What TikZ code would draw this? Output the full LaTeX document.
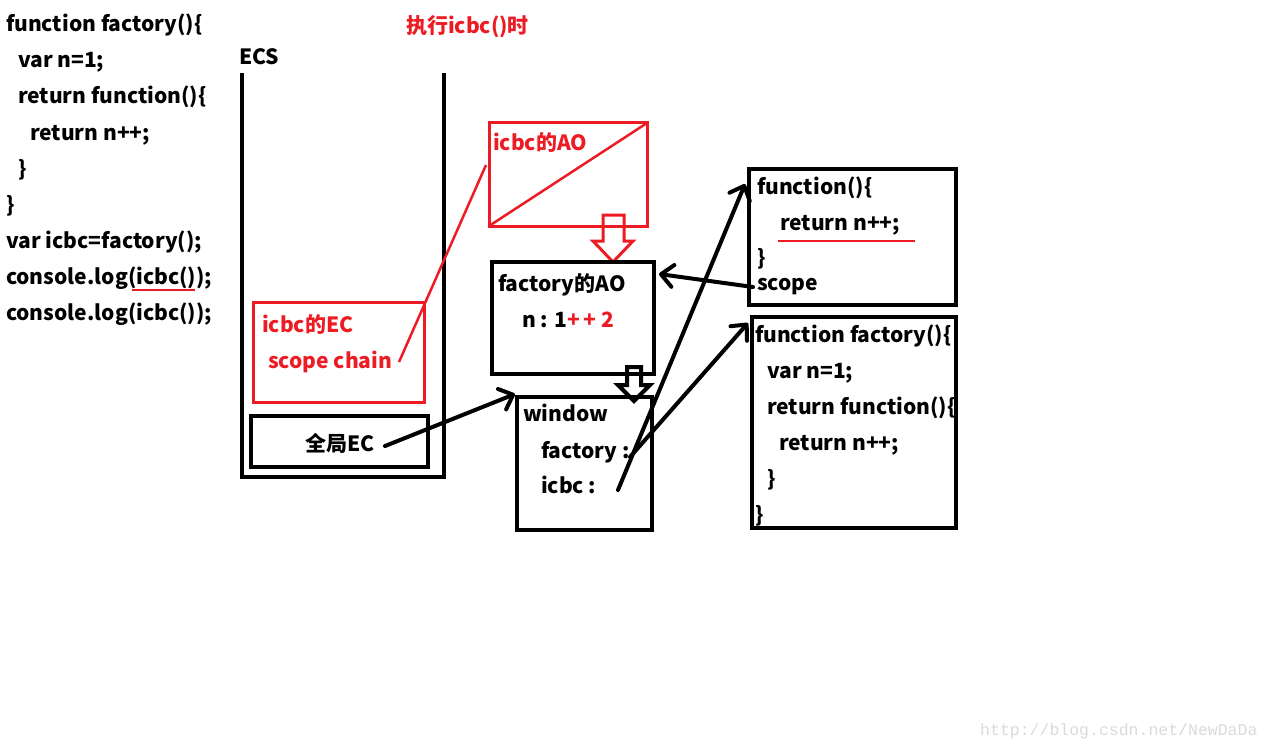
\documentclass[tikz,border=0pt]{standalone}
\usepackage{fontspec}
\newfontfamily\cjk{Noto Sans CJK SC}
\newfontfamily\wmfont{Liberation Mono}
\usetikzlibrary{arrows.meta}
\definecolor{pred}{HTML}{ED1C24}
\definecolor{wm}{HTML}{DADADA}
\tikzset{
  txt/.style={font=\cjk\bfseries\fontsize{21}{24}\selectfont, anchor=base west, inner sep=0pt, outer sep=0pt},
  rtxt/.style={txt, text=pred},
  bbox/.style={draw=black, line width=4.5pt, anchor=north west, inner sep=0pt, outer sep=0pt},
  rbox/.style={draw=pred, line width=3pt, anchor=north west, inner sep=0pt, outer sep=0pt},
  blk/.style={line width=4pt, line cap=round, line join=round, -{Straight Barb[length=12pt,width=22pt,line cap=round,line join=round]}},
  redline/.style={draw=pred, line width=2.5pt},
  hollowr/.style={draw=pred, line width=3pt, line join=miter},
  hollowb/.style={draw=black, line width=4pt, line join=miter},
}
\begin{document}
\begin{tikzpicture}[x=1pt,y=-1pt]
\useasboundingbox (0,0) rectangle (1271,749);
% left code
\node[txt] (c1) at (6,32) {function factory()\{};
\node[txt] (c2) at (18,68) {var n=1;};
\node[txt] (c3) at (18,104) {return function()\{};
\node[txt] (c4) at (30,140) {return n++;};
\node[txt] (c5) at (18,176) {\}};
\node[txt] (c6) at (6,212) {\}};
\node[txt] (c7) at (6,248) {var icbc=factory();};
\node[txt] (c8) at (6,284) {console.log(icbc());};
\node[txt] (c9) at (6,320) {console.log(icbc());};
\draw[redline, line width=2.5pt] (132,290) -- (195,290);
% title
\node[rtxt] (title) at (406,34) {执行icbc()时};
% ECS
\node[txt] (ecs) at (239,65) {ECS};
\draw[line width=4.3pt, line join=miter] (242,73) -- (242,477) -- (444,477) -- (444,73);
% icbc AO
\node[rbox, minimum width=158pt, minimum height=103pt] (iao) at (489,123) {};
\draw[redline] (iao.south west) -- (iao.north east);
\node[rtxt] (iaot) at (493,150) {icbc的AO};
\draw[hollowr] (603,215) -- (624,215) -- (624,241) -- (633,241) -- (613,262) -- (593,241) -- (603,241) -- cycle;
% icbc EC
\node[rbox, minimum width=171pt, minimum height=100pt] (iec) at (253,302) {};
\node[rtxt] (iect) at (262,332) {icbc的EC};
\node[rtxt] (sc) at (268,368) {scope chain};
\coordinate (scend) at (399,362);
\coordinate (iaoin) at (486,165);
\draw[redline] (scend) -- (iaoin);
% global EC
\node[bbox, minimum width=177pt, minimum height=51pt] (gec) at (251,416) {};
\node[txt] (gect) at (305,451) {全局EC};
% factory AO
\node[bbox, minimum width=162pt, minimum height=112pt] (fao) at (492,262) {};
\node[txt] (faot) at (498,291) {factory的AO};
\node[txt] (faon) at (522,327) {n : 1\textcolor{pred}{+\,+ 2}};
\draw[hollowb] (627,367) -- (641,367) -- (641,385) -- (650,385) -- (634,401) -- (618,385) -- (627,385) -- cycle;
% window
\node[bbox, minimum width=135pt, minimum height=133pt] (win) at (517,397) {};
\node[txt] (wint) at (523,421) {window};
\node[txt] (winf) at (541,458) {factory :};
\node[txt] (wini) at (541,493) {icbc :};
% function box
\node[bbox, minimum width=207pt, minimum height=136pt] (fn) at (749,169) {};
\node[txt] (fn1) at (757,194) {function()\{};
\node[txt] (fn2) at (780,230) {return n++;};
\node[txt] (fn3) at (757,265) {\}};
\node[txt] (fn4) at (757,290) {scope};
\draw[redline] (778,241) -- (915,241);
% function factory box
\node[bbox, minimum width=204pt, minimum height=211pt] (ff) at (752,317) {};
\node[txt] (ff1) at (755,342) {function factory()\{};
\node[txt] (ff2) at (767,378) {var n=1;};
\node[txt] (ff3) at (767,414) {return function()\{};
\node[txt] (ff4) at (779,450) {return n++;};
\node[txt] (ff5) at (767,486) {\}};
\node[txt] (ff6) at (755,522) {\}};
% arrows
\coordinate (a1s) at (385,446);
\coordinate (a1e) at (515,394);
\draw[blk] (a1s) -- (a1e);
\coordinate (a2s) at (753,287);
\coordinate (a2e) at (659,274);
\draw[blk] (a2s) -- (a2e);
\coordinate (a3s) at (618,490);
\coordinate (a3e) at (745,184);
\draw[blk] (a3s) -- (a3e);
\coordinate (a4s) at (630,457);
\coordinate (a4e) at (748,323);
\draw[blk] (a4s) -- (a4e);
% watermark
\node[font=\wmfont\fontsize{16.5}{18}\selectfont, text=wm, anchor=base west, inner sep=0pt] (wmk) at (980,735) {http://blog.csdn.net/NewDaDa};
\end{tikzpicture}
\end{document}
